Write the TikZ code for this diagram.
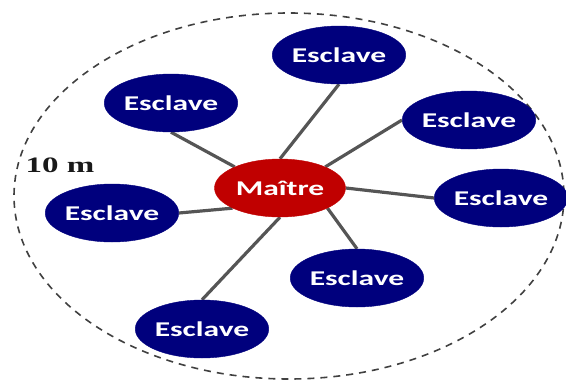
\documentclass[tikz,border=0pt]{standalone}
\usepackage{fontspec}
\usepackage{graphicx}
\setsansfont{Carlito}
\setmainfont{Liberation Serif}
\usetikzlibrary{shapes.geometric,backgrounds}
\definecolor{slavefill}{RGB}{0,0,125}
\definecolor{masterfill}{RGB}{192,0,0}
\definecolor{linkgray}{RGB}{85,85,85}
\tikzset{
  unit/.style={ellipse, minimum width=131pt, minimum height=58pt, inner sep=0pt,
    text=white, font=\sffamily\bfseries\fontsize{21}{25}\selectfont},
  slave/.style={unit, fill=slavefill, draw=slavefill},
  master/.style={unit, fill=masterfill, draw=masterfill},
  link/.style={draw=linkgray, line width=3.2pt},
  coverage/.style={draw=black!75, line width=1.6pt, dash pattern=on 7pt off 6pt}
}
\newcommand{\wide}[1]{\scalebox{1.5}[1]{#1}}
\begin{document}
\begin{tikzpicture}[x=1pt,y=-1pt]
  \useasboundingbox (0,0) rectangle (566,381);
  % coverage of the piconet
  \draw[coverage] (289,196) ellipse [x radius=275, y radius=183];
  \node[font=\rmfamily\bfseries\fontsize{22}{26}\selectfont, anchor=base west, text=black!90]
    (dist) at (22,172) {\wide{10 m}};
  % master and slaves
  \node[master] (m)  at (280,188) {\wide{Maître}};
  \node[slave]  (s1) at (339,55)  {\wide{Esclave}};
  \node[slave]  (s2) at (171,103) {\wide{Esclave}};
  \node[slave]  (s3) at (469,120) {\wide{Esclave}};
  \node[slave]  (s4) at (501,198) {\wide{Esclave}};
  \node[slave]  (s5) at (112,213) {\wide{Esclave}};
  \node[slave]  (s6) at (357,278) {\wide{Esclave}};
  \node[slave]  (s7) at (202,329) {\wide{Esclave}};
  % links
  \begin{scope}[on background layer]
    \draw[link] (m.north) -- (s1.south);
    \draw[link] (m.155)   -- (s2.south);
    \draw[link] (m.25)    -- (s3.west);
    \draw[link] (m.east)  -- (s4.west);
    \draw[link] (m.203)   -- (s5.east);
    \draw[link] (m.337)   -- (s6.north);
    \draw[link] (m.south) -- (s7.north);
  \end{scope}
\end{tikzpicture}
\end{document}
